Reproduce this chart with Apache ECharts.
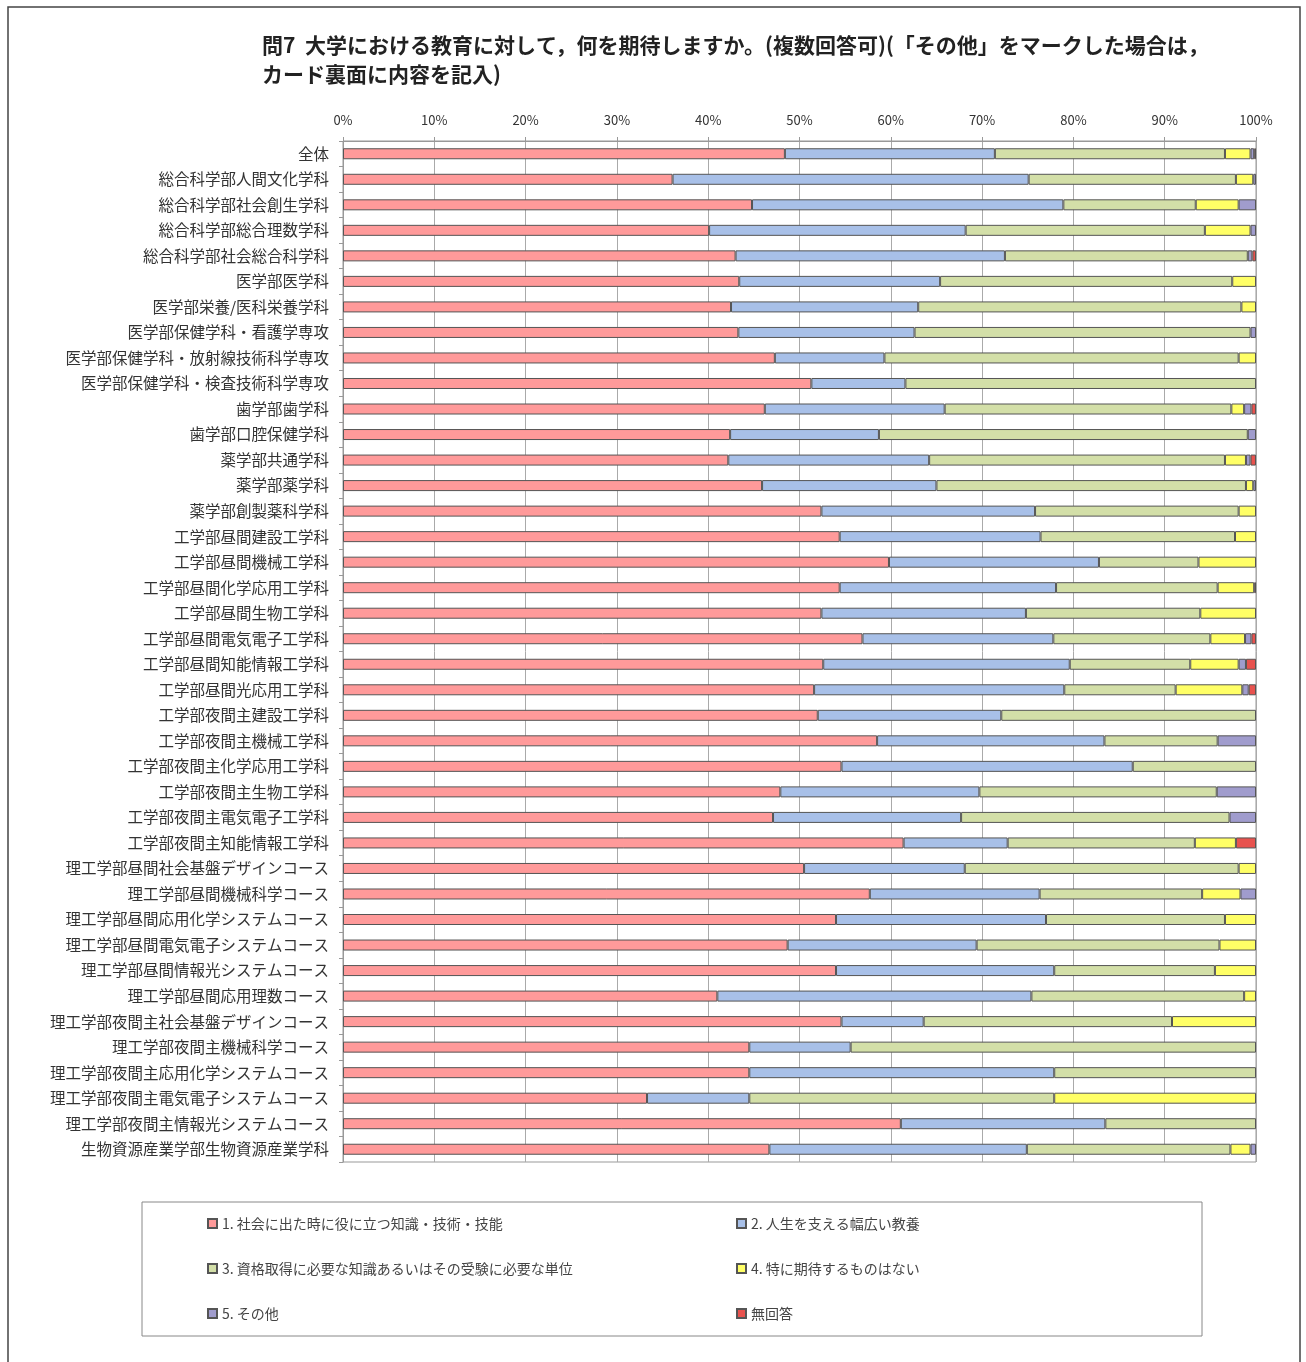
<!DOCTYPE html>
<html><head><meta charset="utf-8">
<script src="https://cdn.jsdelivr.net/npm/echarts@6/dist/echarts.min.js"></script>
<style>html,body{margin:0;padding:0;background:#fff}#c{width:1306px;height:1362px}</style>
</head><body><div id="c"></div>
<script>
const titleLines = ['問7  大学における教育に対して，何を期待しますか。(複数回答可)(「その他」をマークした場合は，', 'カード裏面に内容を記入)'];
const categories = ['全体','総合科学部人間文化学科','総合科学部社会創生学科','総合科学部総合理数学科','総合科学部社会総合科学科','医学部医学科','医学部栄養/医科栄養学科','医学部保健学科・看護学専攻','医学部保健学科・放射線技術科学専攻','医学部保健学科・検査技術科学専攻','歯学部歯学科','歯学部口腔保健学科','薬学部共通学科','薬学部薬学科','薬学部創製薬科学科','工学部昼間建設工学科','工学部昼間機械工学科','工学部昼間化学応用工学科','工学部昼間生物工学科','工学部昼間電気電子工学科','工学部昼間知能情報工学科','工学部昼間光応用工学科','工学部夜間主建設工学科','工学部夜間主機械工学科','工学部夜間主化学応用工学科','工学部夜間主生物工学科','工学部夜間主電気電子工学科','工学部夜間主知能情報工学科','理工学部昼間社会基盤デザインコース','理工学部昼間機械科学コース','理工学部昼間応用化学システムコース','理工学部昼間電気電子システムコース','理工学部昼間情報光システムコース','理工学部昼間応用理数コース','理工学部夜間主社会基盤デザインコース','理工学部夜間主機械科学コース','理工学部夜間主応用化学システムコース','理工学部夜間主電気電子システムコース','理工学部夜間主情報光システムコース','生物資源産業学部生物資源産業学科'];
const seriesNames = ['1. 社会に出た時に役に立つ知識・技術・技能','2. 人生を支える幅広い教養','3. 資格取得に必要な知識あるいはその受験に必要な単位','4. 特に期待するものはない','5. その他','無回答'];
const s1 = [48.4,36.1,44.8,40.1,43.0,43.4,42.5,43.3,47.3,51.3,46.2,42.4,42.2,45.9,52.4,54.4,59.8,54.4,52.4,56.9,52.6,51.6,52.0,58.5,54.6,47.9,47.1,61.4,50.5,57.7,54.0,48.7,54.0,41.0,54.6,44.5,44.5,33.3,61.1,46.7];
const s2 = [23.0,39.0,34.1,28.1,29.5,22.0,20.5,19.3,12.0,10.3,19.7,16.3,22.0,19.1,23.4,22.0,23.0,23.7,22.4,20.9,27.0,27.4,20.1,24.9,31.9,21.8,20.6,11.4,17.6,18.6,23.0,20.7,23.9,34.4,9.0,11.1,33.4,11.2,22.4,28.2];
const s3 = [25.2,22.7,14.5,26.2,26.6,32.0,35.4,36.8,38.8,38.4,31.4,40.4,32.4,33.9,22.3,21.3,10.9,17.7,19.1,17.2,13.2,12.2,27.9,12.4,13.5,26.0,29.4,20.5,30.0,17.8,19.6,26.6,17.6,23.3,27.2,44.4,22.1,33.4,16.5,22.3];
const s4 = [2.8,1.9,4.7,5.0,0,2.6,1.6,0,1.9,0,1.4,0,2.3,0.8,1.9,2.3,6.3,4.0,6.1,3.8,5.3,7.3,0,0,0,0,0,4.5,1.9,4.2,3.4,4.0,4.5,1.3,9.2,0,0,22.1,0,2.2];
const s5 = [0.4,0.3,1.9,0.6,0.5,0,0,0.6,0,0,0.8,0.9,0.5,0.3,0,0,0,0,0,0.7,0.8,0.7,0,4.2,0,4.3,2.9,0,0,1.7,0,0,0,0,0,0,0,0,0,0.6];
const s6 = [0.2,0,0,0,0.4,0,0,0,0,0,0.5,0,0.6,0,0,0,0,0.2,0,0.5,1.1,0.8,0,0,0,0,0,2.2,0,0,0,0,0,0,0,0,0,0,0,0];
const xTicks = [0,10,20,30,40,50,60,70,80,90,100];

const colors = ['#FF9A9A','#A8C0E8','#D3DFA8','#FFFF66','#A09CCD','#E8524E'];
const allData = [s1,s2,s3,s4,s5,s6];
const FONT = '"Noto Sans CJK JP", "Noto Sans", sans-serif';

const chart = echarts.init(document.getElementById('c'), null, {renderer:'canvas'});
const series = allData.map((d,i)=>({
  name: seriesNames[i], type:'bar', stack:'total', barWidth: 11,
  data: d.map(v => v === 0 ? null : v),
  itemStyle:{color: colors[i], borderColor:'#555', borderWidth:1},
  emphasis:{disabled:true}, animation:false
}));
chart.setOption({
  animation:false,
  textStyle:{fontFamily:FONT},
  grid:{left:343, right:50, top:141, bottom:200, show:true, borderColor:'#999', borderWidth:1},
  xAxis:{type:'value', position:'top', min:0, max:100, interval:10,
    axisLine:{show:true, lineStyle:{color:'#999'}},
    axisTick:{show:true, length:4, lineStyle:{color:'#999'}},
    axisLabel:{formatter: v => xTicks.includes(v) ? v + '%' : '', fontSize:13, color:'#333', margin:14, fontFamily:FONT},
    splitLine:{show:true, lineStyle:{color:'#aaa', width:1}}},
  yAxis:{type:'category', inverse:true, data:categories,
    axisLine:{show:true, lineStyle:{color:'#999'}},
    axisTick:{show:true, length:4, lineStyle:{color:'#999'}},
    axisLabel:{fontSize:15.5, color:'#333', margin:14, fontFamily:FONT},
    splitLine:{show:false}},
  legend:[
    {data:[seriesNames[0],seriesNames[2],seriesNames[4]], orient:'vertical', left:202, top:1210,
     itemWidth:9, itemHeight:9, itemGap:28, icon:'rect', textStyle:{fontSize:14, color:'#444', lineHeight:17, fontFamily:FONT}, selectedMode:false},
    {data:[seriesNames[1],seriesNames[3],seriesNames[5]], orient:'vertical', left:731, top:1210,
     itemWidth:9, itemHeight:9, itemGap:28, icon:'rect', textStyle:{fontSize:14, color:'#444', lineHeight:17, fontFamily:FONT}, selectedMode:false}
  ],
  graphic:[
    {type:'rect', shape:{x:8, y:7, width:1292, height:1370}, style:{fill:null, stroke:'#444', lineWidth:1.5}, silent:true},
    {type:'rect', shape:{x:142, y:1202, width:1060, height:134}, style:{fill:null, stroke:'#888', lineWidth:1}, silent:true},
    {type:'text', left:262, top:35, style:{text:titleLines[0], fontSize:21, fontWeight:'bold', fill:'#222', fontFamily:FONT}},
    {type:'text', left:262, top:64, style:{text:titleLines[1], fontSize:21, fontWeight:'bold', fill:'#222', fontFamily:FONT}}
  ],
  series: series
});
</script></body></html>
